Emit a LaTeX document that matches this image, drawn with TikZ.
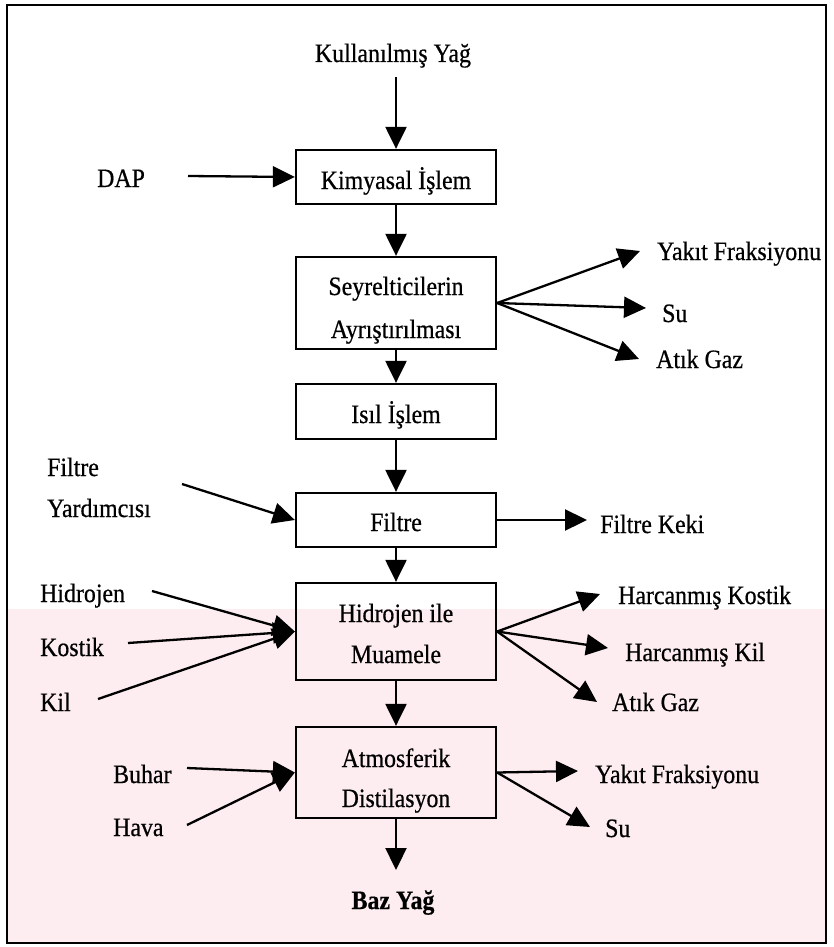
\documentclass[tikz,border=0pt]{standalone}
\usepackage{fontspec}
\setmainfont{Liberation Serif}[FakeStretch=0.9,FakeBold=0.6]
\usetikzlibrary{arrows.meta}
\definecolor{wmpink}{RGB}{253,237,240}

\begin{document}
\begin{tikzpicture}[x=1pt,y=-1pt,
  txt/.style={font=\fontsize{26.5}{30}\selectfont, inner sep=0pt, anchor=base},
  ltxt/.style={txt, anchor=base west},
  box/.style={draw, line width=2.3pt, minimum width=200pt, inner sep=0pt},
  flow/.style={line width=2.3pt, -{Triangle[length=22pt,width=21pt]}}]

\useasboundingbox (0,0) rectangle (833,947);

% faint background band in the lower part
\fill[wmpink] (7,609) rectangle (826,943);

% outer frame
\draw[line width=2.8pt] (7,5) rectangle (826,943);

% process boxes
\node[box, minimum height=54pt] (kim) at (396,177) {};
\node[box, minimum height=92pt] (sey) at (396,303) {};
\node[box, minimum height=55pt] (isil) at (396,411.5) {};
\node[box, minimum height=54pt] (fil) at (396,520) {};
\node[box, minimum height=97pt] (hid) at (396,631.5) {};
\node[box, minimum height=91pt] (atm) at (396,772.5) {};

% box texts
\node[txt] (kimT) at (396,189) {Kimyasal İşlem};
\node[txt] (seyT1) at (396,295) {Seyrelticilerin};
\node[txt] (seyT2) at (396,338) {Ayrıştırılması};
\node[txt] (isilT) at (396,423) {Isıl İşlem};
\node[txt] (filT) at (396,531) {Filtre};
\node[txt] (hidT1) at (396,622) {Hidrojen ile};
\node[txt] (hidT2) at (396,663) {Muamele};
\node[txt] (atmT1) at (396,767) {Atmosferik};
\node[txt] (atmT2) at (396,807) {Distilasyon};

% feeds and products
\node[txt] (oil) at (393,62) {Kullanılmış Yağ};
\node[ltxt] (dap) at (97,187) {DAP};
\node[ltxt] (fy1) at (47,476) {Filtre};
\node[ltxt] (fy2) at (47,517) {Yardımcısı};
\node[ltxt] (h2) at (40,602) {Hidrojen};
\node[ltxt] (kos) at (40,656) {Kostik};
\node[ltxt] (kil) at (40,711) {Kil};
\node[ltxt] (buh) at (113,783) {Buhar};
\node[ltxt] (hav) at (113,836) {Hava};

\node[ltxt] (yk1) at (657,260) {Yakıt Fraksiyonu};
\node[ltxt] (su1) at (662,322) {Su};
\node[ltxt] (ag1) at (656,368) {Atık Gaz};
\node[ltxt] (kek) at (600,533) {Filtre Keki};
\node[ltxt] (hk) at (618,604) {Harcanmış Kostik};
\node[ltxt] (hkil) at (625,661) {Harcanmış Kil};
\node[ltxt] (ag2) at (612,711) {Atık Gaz};
\node[ltxt] (yk2) at (595,783) {Yakıt Fraksiyonu};
\node[ltxt] (su2) at (605,837) {Su};
\node[txt, font=\fontsize{26.5}{30}\selectfont\bfseries] (baz) at (393,909) {Baz Yağ};

% arrow end points
\coordinate (oilS) at (396,77);
\coordinate (dapS) at (188,176);
\coordinate (fyS) at (182,484);
\coordinate (h2S) at (152,591);
\coordinate (kosS) at (128,643);
\coordinate (kilS) at (98,699);
\coordinate (buhS) at (187,768);
\coordinate (havS) at (187,825);
\coordinate (yk1E) at (640,251);
\coordinate (su1E) at (646,308);
\coordinate (ag1E) at (639,359);
\coordinate (kekE) at (587,520);
\coordinate (hkE) at (600,594);
\coordinate (hkilE) at (608,648);
\coordinate (ag2E) at (597,702);
\coordinate (yk2E) at (578,771);
\coordinate (su2E) at (590,827);
\coordinate (bazE) at (396,870);

% main line
\draw[flow] (oilS) -- (kim.north);
\draw[flow] (kim.south) -- (sey.north);
\draw[flow] (sey.south) -- (isil.north);
\draw[flow] (isil.south) -- (fil.north);
\draw[flow] (fil.south) -- (hid.north);
\draw[flow] (hid.south) -- (atm.north);
\draw[flow] (atm.south) -- (bazE);

% inputs
\draw[flow] (dapS) -- (kim.west);
\draw[flow] (fyS) -- (fil.west);
\draw[flow] (h2S) -- (hid.west);
\draw[flow] (kosS) -- (hid.west);
\draw[flow] (kilS) -- (hid.west);
\draw[flow] (buhS) -- (atm.west);
\draw[flow] (havS) -- (atm.west);

% outputs
\draw[flow] (sey.east) -- (yk1E);
\draw[flow] (sey.east) -- (su1E);
\draw[flow] (sey.east) -- (ag1E);
\draw[flow] (fil.east) -- (kekE);
\draw[flow] (hid.east) -- (hkE);
\draw[flow] (hid.east) -- (hkilE);
\draw[flow] (hid.east) -- (ag2E);
\draw[flow] (atm.east) -- (yk2E);
\draw[flow] (atm.east) -- (su2E);
\end{tikzpicture}
\end{document}
